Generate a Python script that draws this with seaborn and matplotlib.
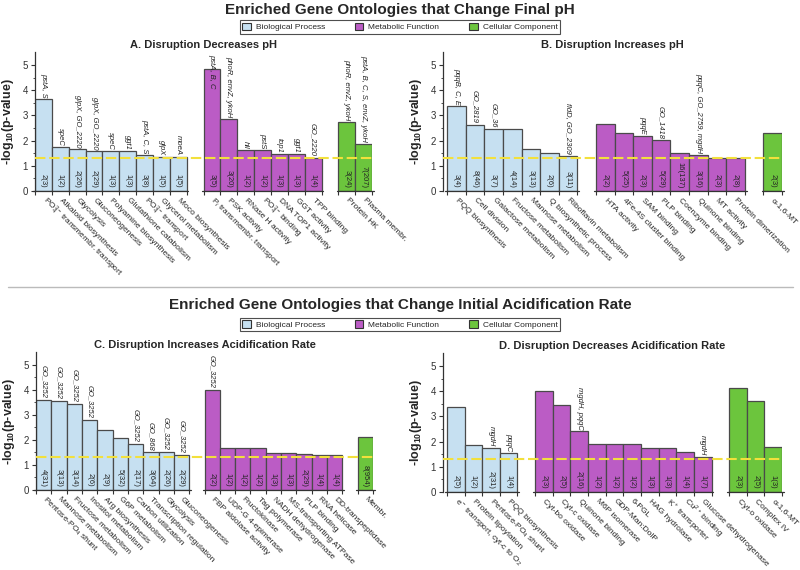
import matplotlib
matplotlib.use('Agg')
import numpy as np
import pandas as pd
import matplotlib.pyplot as plt
import seaborn as sns
from matplotlib.patches import Patch
from matplotlib.lines import Line2D

# GO category colours
kind_names = {'BP': 'Biological Process', 'MF': 'Metabolic Function', 'CC': 'Cellular Component'}
palette = {'Biological Process': '#c6e0f1', 'Metabolic Function': '#bb5cc5', 'Cellular Component': '#6cc53d'}
threshold = 1.3  # -log10(0.05)

# A. Disruption Decreases pH
a_terms = ['PO$_4^{3-}$ transmembr. transport', 'Alkaloid biosynthesis', 'Glycolysis', 'Gluconeogenesis',
           'Polyamine biosynthesis', 'Glutathione catabolism', 'PO$_4^{3-}$ transport', 'Glycerol metabolism',
           'Moco biosynthesis', 'P$_i$ transmembr. transport', 'PSK activity', 'RNase H activity',
           'PO$_4^{3-}$ binding', 'DNA TOP1 activity', 'GGT activity', 'TPP binding', 'Protein HK', 'Plasma membr.']
a_scores = [3.64, 1.73, 1.67, 1.57, 1.57, 1.57, 1.42, 1.34, 1.34, 4.84, 2.84, 1.61, 1.61, 1.46, 1.46, 1.32, 2.72, 1.87]
a_genes = ['pstA, S', 'speC', 'glpX, GO_2220', 'glpX, GO_2220', 'speC', 'ggt1', 'pstA, C, S', 'glpX', 'moeA',
           'pstA, B, C', 'phoR, envZ, ykoH', 'hll', 'pstS', 'top1', 'ggt1', 'GO_2220',
           'phoR, envZ, ykoH', 'pstA, B, C, S, envZ, ykoH']
a_counts = ['2(3)', '1(2)', '2(26)', '2(29)', '1(3)', '1(3)', '3(8)', '1(5)', '1(5)',
            '3(5)', '3(20)', '1(2)', '1(2)', '1(3)', '1(3)', '1(4)', '3(24)', '7(207)']
a_kinds = ['BP'] * 9 + ['MF'] * 7 + ['CC'] * 2

# B. Disruption Increases pH
b_terms = ['PQQ biosynthesis', 'Cell division', 'Galactose metabolism', 'Fructose metabolism',
           'Mannose metabolism', 'Q biosynthetic process', 'Riboflavin metabolism', 'HTA activity',
           '4Fe-4S cluster binding', 'SAM binding', 'PLP binding', 'Coenzyme binding', 'Quinone binding',
           'MT activity', 'Protein dimerization', 'α-1,6-MT']
b_scores = [3.36, 2.62, 2.46, 2.46, 1.67, 1.51, 1.39, 2.65, 2.29, 2.18, 2.01, 1.52, 1.44, 1.32, 1.30, 2.30]
b_genes = ['pqqB, C, E', 'GO_2819', 'GO_36', '', '', '', 'fldD, GO_2309', '', '', 'pqqE', 'GO_1418', '',
           'pqqC, GO_2759, mgdH', '', '', '']
b_counts = ['3(4)', '8(46)', '3(7)', '4(14)', '3(13)', '2(6)', '3(11)', '2(2)', '5(25)', '2(3)', '5(29)',
            '16(137)', '3(16)', '2(3)', '2(8)', '2(3)']
b_kinds = ['BP'] * 7 + ['MF'] * 8 + ['CC'] * 1

# C. Disruption Increases Acidification Rate
c_terms = ['Pentose-PO$_4$ shunt', 'Mannose metabolism', 'Fructose metabolism', 'Inositol metabolism',
           'Arg biosynthesis', 'G6P metabolism', 'Carbon utilization', 'Transcription regulation', 'Glycolysis',
           'Gluconeogenesis', 'FBP aldolase activity', 'UDP-G 4-epimerase', 'Fructokinase', 'Tag polymerase',
           'NADH dehydrogenase', 'MS-transporting ATPase', 'PLP binding', 'RNA helicase', 'DD-transpeptidase',
           'Membr.']
c_scores = [3.60, 3.55, 3.43, 2.79, 2.40, 2.07, 1.85, 1.51, 1.51, 1.40,
            4.00, 1.68, 1.68, 1.68, 1.49, 1.49, 1.44, 1.39, 1.39, 2.12]
c_genes = ['GO_3252', 'GO_3252', 'GO_3252', 'GO_3252', '', '', 'GO_3252', 'GO_868', 'GO_3252', 'GO_3252',
           'GO_3252', '', '', '', '', '', '', '', '', '']
c_counts = ['4(31)', '3(13)', '3(14)', '2(6)', '2(9)', '5(32)', '2(17)', '3(64)', '2(26)', '2(29)',
            '2(2)', '1(2)', '1(2)', '1(2)', '1(3)', '1(3)', '2(29)', '1(4)', '1(4)', '8(954)']
c_kinds = ['BP'] * 10 + ['MF'] * 9 + ['CC'] * 1

# D. Disruption Decreases Acidification Rate
d_terms = ['e$^-$ transport, cyt-c to O$_2$', 'Protein lipoylation', 'Pentose-PO$_4$ shunt', 'PQQ biosynthesis',
           'Cyt-bo oxidase', 'Cyt-c oxidase', 'Quinone binding', 'M6P isomerase', 'GDP-Man:DolP', '6-PGL',
           'HAG hydrolase', 'K$^+$ transporter', 'Cu$^{2+}$ binding', 'Glucose dehydrogenase',
           'Cyt-o oxidase', 'Complex IV', 'α-1,6-MT']
d_scores = [3.38, 1.86, 1.76, 1.56, 4.00, 3.46, 2.41, 1.91, 1.91, 1.91, 1.74, 1.74, 1.59, 1.38, 4.11, 3.61, 1.79]
d_genes = ['', '', 'mgdH', 'pqqC', '', '', 'mgdH, pqqC', '', '', '', '', '', '', 'mgdH', '', '', '']
d_counts = ['2(5)', '1(2)', '2(31)', '1(4)', '2(3)', '2(5)', '2(16)', '1(2)', '1(2)', '1(2)', '1(3)', '1(3)',
            '1(4)', '1(7)', '2(3)', '2(5)', '1(3)']
d_kinds = ['BP'] * 4 + ['MF'] * 10 + ['CC'] * 3

sns.set_style('ticks')
plt.rcParams['font.family'] = ['Liberation Sans', 'DejaVu Sans']
plt.rcParams['mathtext.fontset'] = 'custom'
plt.rcParams['mathtext.rm'] = 'Liberation Sans'
plt.rcParams['mathtext.it'] = 'Liberation Sans:italic'
plt.rcParams['mathtext.bf'] = 'Liberation Sans:bold'

YMAX = 5.5


def draw_panel(fig, ax, terms, scores, genes, counts, kinds, title, x0=-0.5):
    df = pd.DataFrame({'term': terms, 'score': scores, 'kind': [kind_names[k] for k in kinds]})
    # empty slots between the GO categories
    order = []
    runs = []
    n_sp = 0
    for i, t in enumerate(terms):
        if i > 0 and kinds[i] != kinds[i - 1]:
            n_sp += 1
            order.append(' ' * n_sp)
        if i == 0 or kinds[i] != kinds[i - 1]:
            runs.append([len(order), len(order)])
        order.append(t)
        runs[-1][1] = len(order) - 1

    sns.barplot(data=df, x='term', y='score', hue='kind', order=order, palette=palette, dodge=False,
                width=1.0, saturation=1, edgecolor='#4a4a4a', linewidth=0.9, legend=False, ax=ax, zorder=2)
    ax.set_xlim(x0, len(order) - 0.5)
    ax.set_ylim(0, YMAX)
    ax.axhline(threshold, color='#f2e03c', ls=(0, (5, 1.8)), lw=1.5, zorder=4)

    for s in ['top', 'right', 'bottom']:
        ax.spines[s].set_visible(False)
    ax.spines['left'].set_color('#333333')
    ax.spines['left'].set_linewidth(0.9)

    edges = []
    for s, e in runs:
        ax.plot([s - 0.6, e + 0.6], [0, 0], color='#333333', lw=0.9, clip_on=False, zorder=6)
        edges.extend(np.arange(s - 0.5, e + 1.0, 1.0))
    ax.set_xticks(range(len(order)))
    ax.set_xticklabels(order, rotation=-45, ha='left', va='center', rotation_mode='anchor', fontsize=6)
    ax.set_xticks(edges, minor=True)
    ax.tick_params(axis='x', which='major', length=0, pad=6)
    ax.tick_params(axis='x', which='minor', length=3, width=0.8, color='#333333')

    ax.set_yticks(range(6))
    ax.set_yticks(np.arange(0.5, 5.5, 1.0), minor=True)
    ax.tick_params(axis='y', which='major', labelsize=7, length=3, width=0.8, pad=2, color='#333333',
                   labelcolor='#333333')
    ax.tick_params(axis='y', which='minor', length=1.5, width=0.6, color='#333333')
    ax.set_xlabel('')
    ax.set_ylabel('-log$_{\\mathbf{10}}$(p-value)', fontsize=9, fontweight='bold', labelpad=5)
    ax.set_title(title, fontsize=8, fontweight='bold', pad=3.5)

    renderer = fig.canvas.get_renderer()
    inv = ax.transData.inverted()
    for t, h, g, c in zip(terms, scores, genes, counts):
        p = order.index(t)
        if g:
            txt = ax.text(p, h + 0.07, g, rotation=270, ha='center', va='bottom', fontsize=5.5,
                          fontstyle='italic', color='#222222', zorder=7)
            bb = txt.get_window_extent(renderer).transformed(inv)
            if bb.y1 > YMAX - 0.05:
                txt.set_y(YMAX - 0.05)
                txt.set_va('top')
        ax.text(p, 0.12, c, rotation=270, ha='center', va='bottom', fontsize=5.5, color='#222222', zorder=7)


fig = plt.figure(figsize=(8, 5.7), dpi=100)
ax_a = fig.add_axes([0.0438, 0.6649, 0.4213, 0.2432])
ax_b = fig.add_axes([0.5538, 0.6649, 0.4238, 0.2432])
ax_c = fig.add_axes([0.0450, 0.1404, 0.4213, 0.2412])
ax_d = fig.add_axes([0.5538, 0.1368, 0.4238, 0.2432])

draw_panel(fig, ax_a, a_terms, a_scores, a_genes, a_counts, a_kinds, 'A. Disruption Decreases pH')
draw_panel(fig, ax_b, b_terms, b_scores, b_genes, b_counts, b_kinds, 'B. Disruption Increases pH', x0=-0.72)
draw_panel(fig, ax_c, c_terms, c_scores, c_genes, c_counts, c_kinds, 'C. Disruption Increases Acidification Rate')
draw_panel(fig, ax_d, d_terms, d_scores, d_genes, d_counts, d_kinds, 'D. Disruption Decreases Acidification Rate',
           x0=-0.72)

fig.text(0.5, 1 - 10 / 570, 'Enriched Gene Ontologies that Change Final pH', ha='center', va='center',
         fontsize=11, fontweight='bold')
fig.text(0.5, 1 - 305 / 570, 'Enriched Gene Ontologies that Change Initial Acidification Rate', ha='center',
         va='center', fontsize=11, fontweight='bold')
fig.add_artist(Line2D([8 / 800, 793 / 800], [1 - 287 / 570] * 2, color='#bbbbbb', lw=1))

handles = [Patch(facecolor=palette[k], edgecolor='#333333', linewidth=0.8) for k in palette]
for yc in [27, 324.5]:
    fig.legend(handles, list(palette), loc='center', bbox_to_anchor=(0.5, 1 - yc / 570), ncol=3, fontsize=6,
               frameon=True, edgecolor='#222222', fancybox=False, handlelength=1.0, handleheight=1.0,
               columnspacing=3.6, borderpad=0.3, handletextpad=0.6).get_frame().set_linewidth(0.8)

fig.savefig('out.png', dpi=100)
